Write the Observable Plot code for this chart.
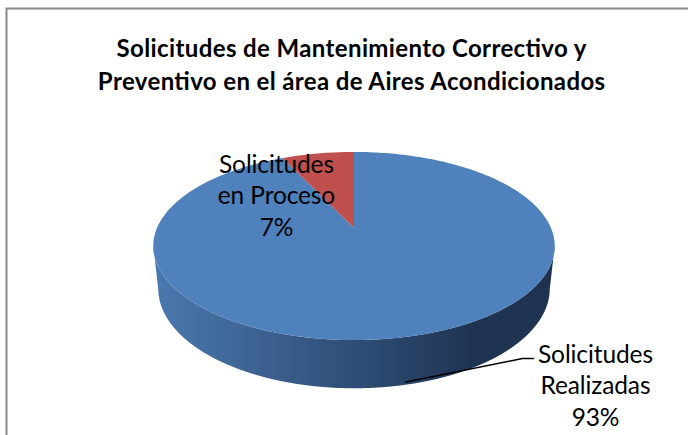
<!DOCTYPE html>
<html><head><meta charset="utf-8">
<script src="https://cdn.jsdelivr.net/npm/d3@7"></script>
<script src="https://cdn.jsdelivr.net/npm/@observablehq/plot@0.6"></script>
<style>body{margin:0;background:#fff;}</style>
</head><body><div id="chart"></div>
<script>
// ---- data ----
const categories = ["Solicitudes Realizadas", "Solicitudes en Proceso"];
const values = [93, 7];
const percentLabels = ["93%", "7%"];
const labelLines = [["Solicitudes", "Realizadas", "93%"], ["Solicitudes", "en Proceso", "7%"]];
const sliceColors = ["#4f81bd", "#c0504d"];
const titleLines = ["Solicitudes de Mantenimiento Correctivo y", "Preventivo en el área de Aires Acondicionados"];

// ---- layout ----
const W = 688, H = 435;
const FONT = "Lato";
const titleSize = 24, labelSize = 24.5;

// 3D perspective projection of a unit disc
const cx = 354, cy = 228, k = 197, sinA = 0.46, cosA = Math.sqrt(1 - sinA * sinA), dist = 4.64, depth = 0.245;
function proj(X, Y, Z) {
  const yp = Y * cosA - Z * sinA;
  const zp = Y * sinA + Z * cosA;
  const s = dist / (dist - zp);
  return [cx + k * X * s, cy - k * yp * s];
}
const rim = (t, Y) => proj(Math.sin(t), Y, -Math.cos(t));

const arcs = d3.pie().sort(null).value(d => d)(values);

// top face sectors
const topRows = [];
arcs.forEach((a, i) => {
  const n = Math.max(8, Math.ceil((a.endAngle - a.startAngle) / (Math.PI / 180)));
  const apex = proj(0, 0, 0);
  for (let j = 0; j <= n; j++) {
    const t = a.startAngle + (a.endAngle - a.startAngle) * j / n;
    const p = rim(t, 0);
    topRows.push({i, x1: p[0], y1: p[1], x2: apex[0], y2: apex[1], fill: sliceColors[i]});
  }
});

// side wall: front part between silhouette extremes
const samples = d3.range(0, 3601).map(j => j / 3600 * 2 * Math.PI);
const tR = d3.greatest(samples.filter(t => t < Math.PI), t => rim(t, 0)[0]);
const tL = d3.least(samples.filter(t => t > Math.PI), t => rim(t, 0)[0]);
const wallRows = samples.filter(t => t >= tR && t <= tL).map(t => {
  const a = rim(t, 0), b = rim(t, -depth);
  return {x1: a[0], y1: a[1], x2: b[0], y2: b[1]};
});
const xmin = rim(tL, 0)[0], xmax = rim(tR, 0)[0];

// leader line for the big slice
const mid0 = (arcs[0].startAngle + arcs[0].endAngle) / 2;
const leaderStart = rim(mid0, -depth * 0.93);
const leader = [
  {x: leaderStart[0], y: leaderStart[1]},
  {x: 522, y: 358},
  {x: 533, y: 358}
];

const labelRows = [];
const labelAnchors = [{x: 595, y: 362}, {x: 276, y: 172}];
labelLines.forEach((lines, i) => lines.forEach((s, j) =>
  labelRows.push({x: labelAnchors[i].x, y: labelAnchors[i].y + j * 31.5, text: s})));
const titleRows = titleLines.map((s, j) => ({x: 351, y: 56 + j * 33, text: s}));

const gradMark = () => {
  const defs = d3.create("svg:defs");
  const g = defs.append("linearGradient").attr("id", "sideGrad")
    .attr("gradientUnits", "userSpaceOnUse")
    .attr("x1", xmin).attr("x2", xmax).attr("y1", 0).attr("y2", 0);
  [[0, "#4a78ae"], [0.18, "#41699b"], [0.5, "#2f4e77"], [0.8, "#1f3452"], [1, "#1f3350"]]
    .forEach(([o, c]) => g.append("stop").attr("offset", o).attr("stop-color", c));
  return defs.node();
};

const chart = Plot.plot({
  width: W, height: H, margin: 0,
  x: {domain: [0, W], range: [0, W], axis: null},
  y: {domain: [0, H], range: [0, H], axis: null},
  marks: [
    gradMark,
    Plot.rect([{}], {x1: () => 6.5, x2: () => W + 20, y1: () => 8.5, y2: () => H + 20, stroke: "#878787", strokeWidth: 2, fill: "white"}),
    Plot.area(wallRows, {x1: "x1", y1: "y1", x2: "x2", y2: "y2", fill: "url(#sideGrad)", curve: "linear"}),
    Plot.area(topRows, {x1: "x1", y1: "y1", x2: "x2", y2: "y2", z: "i", fill: "fill", curve: "linear"}),
    Plot.line(leader, {x: "x", y: "y", stroke: "black", strokeWidth: 1.5}),
    Plot.text(labelRows, {x: "x", y: "y", text: "text", fontSize: labelSize, fontFamily: FONT, fill: "black", textAnchor: "middle", lineAnchor: "bottom"}),
    Plot.text(titleRows, {x: "x", y: "y", text: "text", fontSize: titleSize, fontFamily: FONT, fontWeight: "bold", fill: "black", textAnchor: "middle", lineAnchor: "bottom"})
  ]
});
document.getElementById("chart").appendChild(chart);

// condense text horizontally (Calibri is narrower than Lato)
const textGroups = chart.querySelectorAll('g[aria-label="text"]');
function condense(group, refText, target) {
  if (!group) return;
  const nodes = Array.from(group.querySelectorAll("text"));
  const ref = nodes.find(n => n.textContent === refText);
  if (!ref) return;
  const f = target / ref.getComputedTextLength();
  nodes.forEach(n => {
    const L = n.getComputedTextLength();
    n.setAttribute("textLength", L * f);
    n.setAttribute("lengthAdjust", "spacing");
  });
}
condense(textGroups[0], "Solicitudes", 115);
condense(textGroups[1], titleLines[0], 470);
</script>
</body></html>
